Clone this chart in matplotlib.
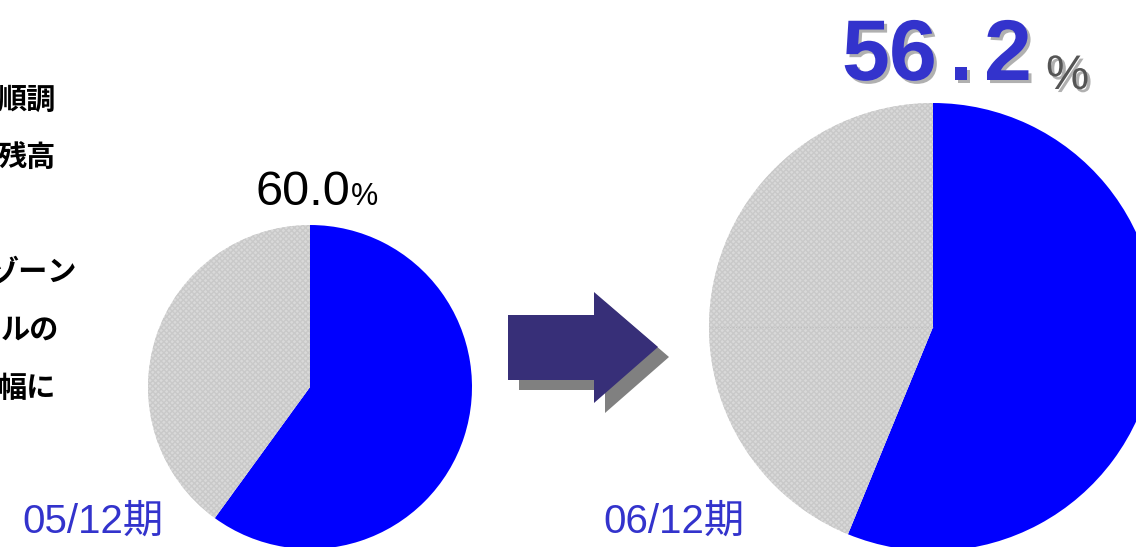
import matplotlib.pyplot as plt
import matplotlib.patheffects as pe
from matplotlib.patches import Polygon

# 期ごとの比率 (%)
periods = ["05/12期", "06/12期"]
shares = [60.0, 56.2]
share_labels = ["60.0", "56.2"]

# 左側の説明文 (行ごと)
notes = ["順調", "残高", "ゾーン", "ルの", "幅に"]

W, H = 1136, 547
BLUE = "#0000ff"
GRAY = "#d9d9d9"
TEXT_BLUE = "#3333cc"

plt.rcParams["font.family"] = ["Liberation Sans", "Noto Sans CJK JP", "DejaVu Sans"]

fig = plt.figure(figsize=(W / 100, H / 100), dpi=100)
ax = fig.add_axes([0, 0, 1, 1])


def py(y):
    # 上から測った位置を下からの座標へ
    return H - y


# 円グラフ 2 つ (左: 小, 右: 大)
pies = [((310, py(387)), 162), ((933, py(327)), 224)]
for (center, radius), share in zip(pies, shares):
    wedges, _ = ax.pie(
        [share, 100 - share],
        colors=[BLUE, GRAY],
        startangle=90,
        counterclock=False,
        center=center,
        radius=radius,
        frame=True,
        wedgeprops=dict(linewidth=0),
    )
    wedges[1].set_hatch("xxxxxx")
    wedges[1].set_edgecolor("#c9c9c9")
    wedges[1].set_linewidth(0)

# 右の円の中の薄い点線
ax.plot([712, 933], [py(327), py(327)], ls=":", lw=0.8, color="#bdbdbd")

# 矢印 (影付き)
arrow = [(508, 315), (594, 315), (594, 292), (658, 347),
         (594, 403), (594, 380), (508, 380)]
shadow = [(x + 11, y + 10) for x, y in arrow]
ax.add_patch(Polygon([(x, py(y)) for x, y in shadow], closed=True,
                     facecolor="#808080", edgecolor="none"))
ax.add_patch(Polygon([(x, py(y)) for x, y in arrow], closed=True,
                     facecolor="#372f78", edgecolor="none"))

# 左の比率ラベル
ax.text(255, py(205), share_labels[0], fontsize=35, color="black",
        ha="left", va="baseline")
ax.text(351, py(205), "%", fontsize=22, color="black",
        ha="left", va="baseline")

# 右の比率ラベル (影付きの大きい数字を一文字ずつ)
shadow_fx = [pe.SimplePatchShadow(offset=(2.2, -2.2), shadow_rgbFace="#b0b0b0",
                                  alpha=1), pe.Normal()]
big = share_labels[1]
big_x = [842, 889, 961, 984]
big_ha = ["left", "left", "center", "left"]
for ch, x, ha in zip(big, big_x, big_ha):
    ax.text(x, py(80), ch, fontsize=62, fontweight="bold", color=TEXT_BLUE,
            ha=ha, va="baseline", path_effects=shadow_fx)
ax.text(1046, py(89), "%", fontsize=35, color="#555555",
        ha="left", va="baseline", path_effects=shadow_fx)

# 期のラベル
ax.text(22, py(533), periods[0], fontsize=29, color=TEXT_BLUE,
        ha="left", va="baseline")
ax.text(603, py(533), periods[1], fontsize=29, color=TEXT_BLUE,
        ha="left", va="baseline")

# 説明文 (左端ははみ出す)
note_y = [100, 158, 272, 330, 388]
note_right = [56, 56, 77, 59, 56]
for txt, y, xr in zip(notes, note_y, note_right):
    ax.text(xr, py(y), txt, fontsize=21, fontweight="bold", color="black",
            ha="right", va="center", family=["Noto Sans CJK JP"])

ax.set_xlim(0, W)
ax.set_ylim(0, H)
ax.set_aspect("equal")
ax.axis("off")

fig.savefig("out.png", dpi=100)
